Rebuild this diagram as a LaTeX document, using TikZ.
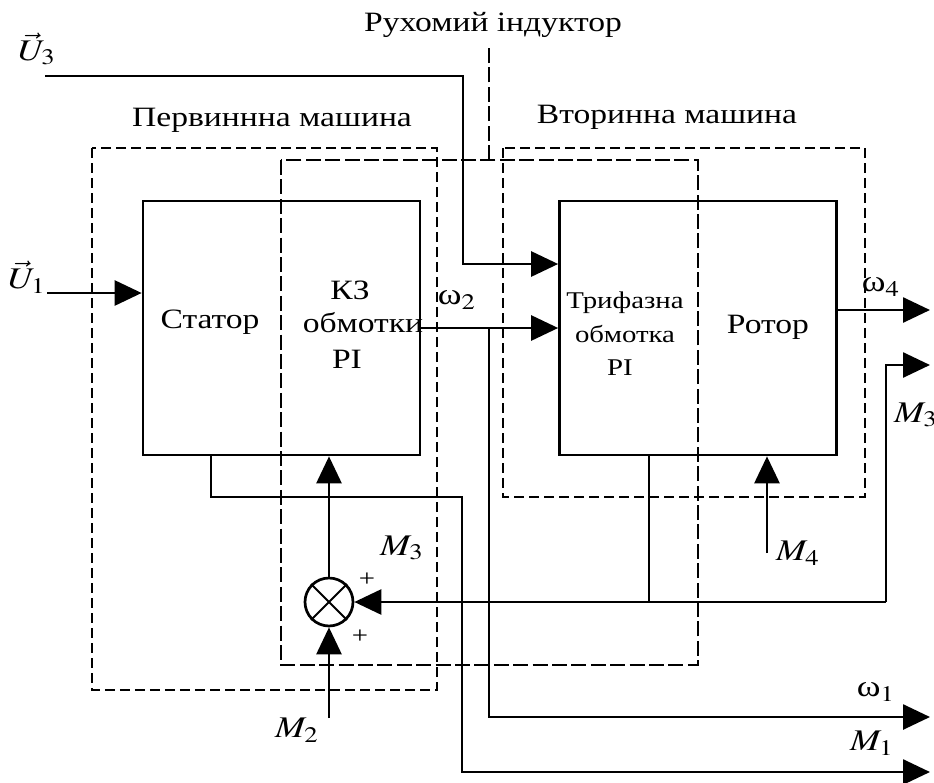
\documentclass[tikz,border=0pt]{standalone}
\usepackage{graphicx}
\usepackage{mathptmx}
\usepackage{fontspec}
\setmainfont{Liberation Serif}[FakeStretch=1.2]
\usetikzlibrary{arrows.meta,positioning}

\newcommand{\omg}[1]{ω\scalebox{1.2}[1]{$_{#1}$}}
\newcommand{\sig}[1]{\scalebox{1.2}[1]{#1}}

\begin{document}
\begin{tikzpicture}[x=0.5pt, y=-0.5pt, >={Triangle[length=13.5pt,width=12.5pt]},
    font=\fontsize{14}{16}\selectfont,
    block/.style={draw, line width=1.35pt, minimum width=138.5pt, minimum height=127pt, inner sep=0pt},
    wire/.style={line width=1.35pt},
    thindash/.style={line width=0.8pt, dash pattern=on 5pt off 2.5pt},
    thickdash/.style={line width=1.4pt, dash pattern=on 7.5pt off 2.2pt},
    small/.style={font=\fontsize{12}{14}\selectfont},
    lbl/.style={font=\fontsize{15}{17}\selectfont}]

        \useasboundingbox (0,0) rectangle (934,783);

        % Dashed frames of the two machines and the moving inductor
        \draw[thindash] (92,148) rectangle (437,690);
        \draw[thindash] (503,148) rectangle (865,497);
        \draw[thickdash] (281,160) rectangle (698,665);
        \draw[thickdash] (489,160) -- (489,48);

        \node (prim) at (272,120) {Первиннна машина};
        \node (sec) at (667,117) {Вторинна машина};
        \node (ind) at (493,25) {Рухомий індуктор};

        % Blocks
        \node[block] (lbox) at (281.5,328) {};
        \node[block] (rbox) at (698,328) {};

        \node (stator) at (210,322) {Статор};
        \node (kz) at (350,290) {КЗ};
        \node (obm) at (363,323) {обмотки};
        \node (ri) at (347,359) {РІ};

        \node[small] (tri) at (625,303) {Трифазна};
        \node[small] (obm2) at (625,334) {обмотка};
        \node[small] (ri2) at (620,368) {РІ};
        \node (rotor) at (768,327) {Ротор};

        % Summing junction
        \node[draw, circle, line width=1.35pt, minimum size=24pt, inner sep=0pt] (sum) at (329,602) {};
        \draw[line width=1pt] (sum.45) -- (sum.225) (sum.135) -- (sum.315);
        \node[font=\fontsize{12}{14}\selectfont] (p1) at (367,580) {+};
        \node[font=\fontsize{12}{14}\selectfont] (p2) at (360,637) {+};

        % Free ends of the connectors
        \coordinate (u3) at (45,76);
        \coordinate (u3b) at (463,264);
        \coordinate (u1) at (47,293);
        \coordinate (w2b) at (489,328);
        \coordinate (w1) at (930,717);
        \coordinate (m1b) at (462,497);
        \coordinate (m1) at (930,772);
        \coordinate (w4) at (930,310);
        \coordinate (m3k) at (886,602);
        \coordinate (m3) at (930,365);
        \coordinate (m2) at (329,718);
        \coordinate (m4) at (767,553);

        % Connectors
        \draw[wire,->] (u3) -| (u3b) -- (u3b -| rbox.west);
        \draw[wire,->] (u1) -- (u1 -| lbox.west);
        \draw[wire,->] (lbox.east) -- (rbox.west);
        \draw[wire,->] (w2b) |- (w1);
        \draw[wire,->] ([xshift=-35.25pt]lbox.south) |- (m1b) |- (m1);
        \draw[wire,->] (w4 -| rbox.east) -- (w4);
        \draw[wire,->] (m3k) |- (m3);
        \draw[wire,->] (m3k) -- (sum);
        \draw[wire] ([xshift=-24.5pt]rbox.south) -- ([xshift=-24.5pt]rbox.south |- m3k);
        \draw[wire,->] (sum) -- (sum |- lbox.south);
        \draw[wire,->] (m2) -- (sum);
        \draw[wire,->] (m4) -- (m4 |- rbox.south);

        % Signal labels
        \node[lbl] (lu3) at (37,49) {\sig{$\vec{U}_3$}};
        \node[lbl] (lu1) at (27,277) {\sig{$\vec{U}_1$}};
        \node[lbl] (lw2) at (457,300) {\omg{2}};
        \node[lbl] (lw4) at (881,287) {\omg{4}};
        \node[lbl] (lw1) at (876,692) {\omg{1}};
        \node[lbl] (lm1) at (872,743) {\sig{$M_1$}};
        \node[lbl] (lm3r) at (916,415) {\sig{$M_3$}};
        \node[lbl] (lm3) at (402,548) {\sig{$M_3$}};
        \node[lbl] (lm2) at (297,730) {\sig{$M_2$}};
        \node[lbl] (lm4) at (798,553) {\sig{$M_4$}};

    \end{tikzpicture}
\end{document}
